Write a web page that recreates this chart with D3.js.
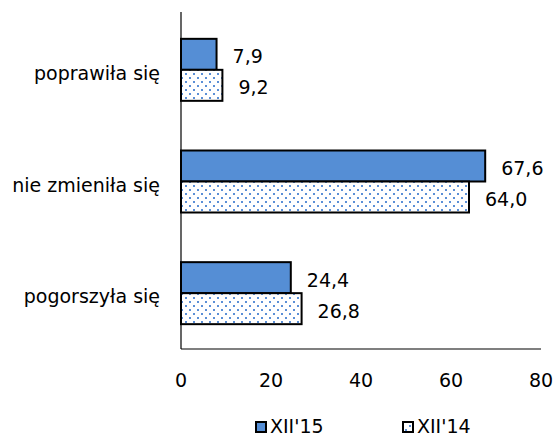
<!DOCTYPE html>
<html>
<head>
<meta charset="utf-8">
<script src="https://cdn.jsdelivr.net/npm/d3@7"></script>
<style>
  body { margin: 0; background: #fff; }
  svg text { font-family: "DejaVu Sans", Verdana, sans-serif; fill: #000; }
</style>
</head>
<body>
<svg id="chart" width="557" height="436"></svg>
<script>
// Assessment categories, top to bottom
const categories = ["poprawiła się", "nie zmieniła się", "pogorszyła się"];
// Share of answers (%) per survey wave
const seriesNames = ["XII'15", "XII'14"];
const valuesXII15 = [7.9, 67.6, 24.4];
const valuesXII14 = [9.2, 64.0, 26.8];
const xTicks = [0, 20, 40, 60, 80];

const svg = d3.select("#chart");
const margin = { top: 14, left: 181, right: 16, bottom: 87 };
const W = 557, H = 436;
const fontSize = 19;

const defs = svg.append("defs");
const pat = defs.append("pattern")
  .attr("id", "dots")
  .attr("patternUnits", "userSpaceOnUse")
  .attr("width", 8).attr("height", 8);
pat.append("rect").attr("width", 8).attr("height", 8).attr("fill", "#fff");
pat.append("rect").attr("x", 1).attr("y", 1).attr("width", 2).attr("height", 2).attr("fill", "#5b8fd6");
pat.append("rect").attr("x", 5).attr("y", 5).attr("width", 2).attr("height", 2).attr("fill", "#5b8fd6");

const x = d3.scaleLinear().domain([0, 80]).range([margin.left, W - margin.right]);
const y = d3.scaleBand().domain(categories).range([margin.top, H - margin.bottom]);
const barH = 31;

const series = [
  { name: seriesNames[0], values: valuesXII15, fill: "#558ed5", offset: -barH },
  { name: seriesNames[1], values: valuesXII14, fill: "url(#dots)", offset: 0 }
];

const fmt = v => d3.format(".1f")(v).replace(".", ",");

series.forEach(s => {
  const g = svg.append("g");
  const rows = categories.map((c, i) => ({ c, v: s.values[i] }));
  g.selectAll("rect")
    .data(rows)
    .join("rect")
    .attr("x", x(0))
    .attr("y", d => y(d.c) + y.bandwidth() / 2 + s.offset)
    .attr("width", d => x(d.v) - x(0))
    .attr("height", barH)
    .attr("fill", s.fill)
    .attr("stroke", "#000")
    .attr("stroke-width", 2);
  g.selectAll("text")
    .data(rows)
    .join("text")
    .attr("x", d => x(d.v) + 16)
    .attr("y", d => y(d.c) + y.bandwidth() / 2 + s.offset + barH / 2 + 9)
    .attr("font-size", fontSize)
    .text(d => fmt(d.v));
});

// Axis lines
svg.append("line")
  .attr("x1", x(0)).attr("x2", x(0))
  .attr("y1", margin.top - 2).attr("y2", H - margin.bottom)
  .attr("stroke", "#000").attr("stroke-width", 1.2);
svg.append("line")
  .attr("x1", x(0)).attr("x2", x(80))
  .attr("y1", H - margin.bottom).attr("y2", H - margin.bottom)
  .attr("stroke", "#000").attr("stroke-width", 1.2);

// Tick labels
svg.append("g").selectAll("text")
  .data(xTicks)
  .join("text")
  .attr("x", d => x(d))
  .attr("y", 387)
  .attr("text-anchor", "middle")
  .attr("font-size", fontSize)
  .text(d => d);

// Category labels
svg.append("g").selectAll("text")
  .data(categories)
  .join("text")
  .attr("x", 160)
  .attr("y", d => y(d) + y.bandwidth() / 2 + 10)
  .attr("text-anchor", "end")
  .attr("font-size", fontSize)
  .text(d => d);

// Legend
const legendX = [256, 403];
series.forEach((s, i) => {
  svg.append("rect")
    .attr("x", legendX[i]).attr("y", 422)
    .attr("width", 10).attr("height", 10)
    .attr("fill", s.fill)
    .attr("stroke", "#000").attr("stroke-width", 2);
  svg.append("text")
    .attr("x", legendX[i] + 14).attr("y", 433)
    .attr("font-size", fontSize)
    .text(s.name);
});
</script>
</body>
</html>
